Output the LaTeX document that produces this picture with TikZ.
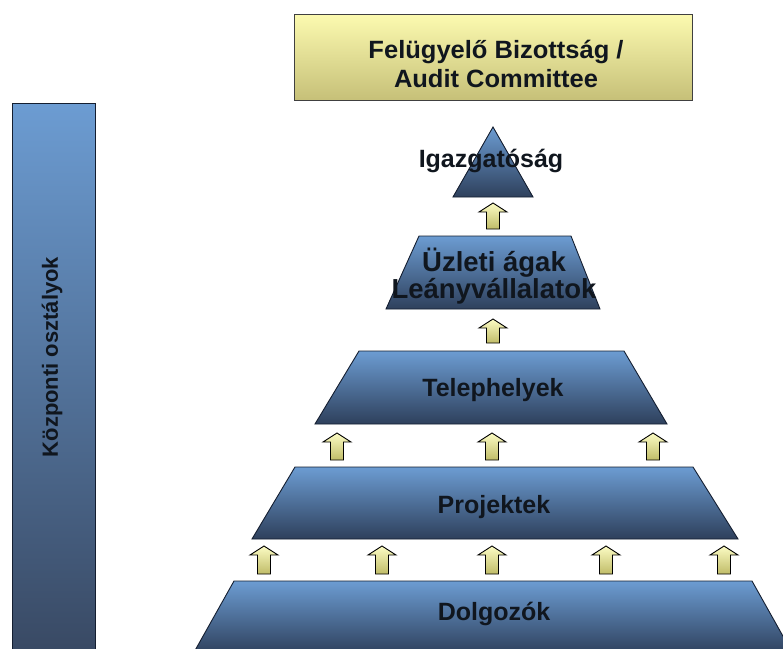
\documentclass[tikz,border=0pt]{standalone}
\usepackage{fontspec}
\setmainfont{Liberation Sans}
\begin{document}
\begin{tikzpicture}[x=1pt,y=-1pt,
  tier/.style={draw=tierline, line width=0.9pt, top color=tiertop, bottom color=tierbot},
  label/.style={font=\bfseries\fontsize{25}{26}\selectfont, text=labeltext, inner sep=0pt, align=center},
  arrowbody/.style={draw=black, line width=0.9pt, top color=arrowtop, bottom color=arrowbot},
  pics/uparrow/.style={code={
    \path[arrowbody] (0,0) -- (14,9) -- (6.5,9) -- (6.5,#1) -- (-6.5,#1) -- (-6.5,9) -- (-14,9) -- cycle;
  }}]
\definecolor{tiertop}{RGB}{108,156,210}
\definecolor{tierbot}{RGB}{46,64,92}
\definecolor{tierline}{RGB}{20,30,48}
\definecolor{bartop}{RGB}{108,156,210}
\definecolor{barbot}{RGB}{56,72,98}
\definecolor{boardtop}{RGB}{252,250,176}
\definecolor{boardbot}{RGB}{198,192,120}
\definecolor{arrowtop}{RGB}{252,252,196}
\definecolor{arrowbot}{RGB}{192,188,104}
\definecolor{labeltext}{RGB}{16,22,30}

\useasboundingbox (0,0) rectangle (783,648);
\clip (0,0) rectangle (783,648);

% supervisory board
\path[draw=black!75, line width=0.9pt, top color=boardtop, bottom color=boardbot]
  (294,14) rectangle (692,100);
\node[label, xscale=1.02] (board) at (496,64)
  {Felügyelő Bizottság /\\[3pt]Audit Committee};

% central departments bar
\path[draw=tierline, line width=0.9pt, top color=bartop, bottom color=barbot]
  (12,103) rectangle (95,660);
\node[label, font=\bfseries\fontsize{22}{24}\selectfont, rotate=90] (central) at (52,357)
  {Központi osztályok};

% pyramid levels
\path[tier] (493,127) -- (533,197) -- (453,197) -- cycle;
\node[label, anchor=base] (board2) at (491,167) {Igazgatóság};

\path[tier] (419,236) -- (571,236) -- (600,309) -- (386,309) -- cycle;
\node[label, font=\bfseries\fontsize{27.5}{25}\selectfont] (business) at (494,276)
  {Üzleti ágak\\Leányvállalatok};

\path[tier] (359,351) -- (624,351) -- (667,424) -- (315,424) -- cycle;
\node[label, anchor=base] (sites) at (493,396) {Telephelyek};

\path[tier] (295,467) -- (693,467) -- (738,539) -- (252,539) -- cycle;
\node[label, anchor=base] (projects) at (494,513) {Projektek};

\path[tier] (234,581) -- (752,581) -- (793,654) -- (193,654) -- cycle;
\node[label, anchor=base] (staff) at (494,620) {Dolgozók};

% upward block arrows between levels
\pic at (493,203) {uparrow=26};
\pic at (493,319) {uparrow=24};
\foreach \x in {337,492,653} \pic at (\x,433) {uparrow=27};
\foreach \x in {264,382,492,606,724} \pic at (\x,546) {uparrow=28};
\end{tikzpicture}
\end{document}
